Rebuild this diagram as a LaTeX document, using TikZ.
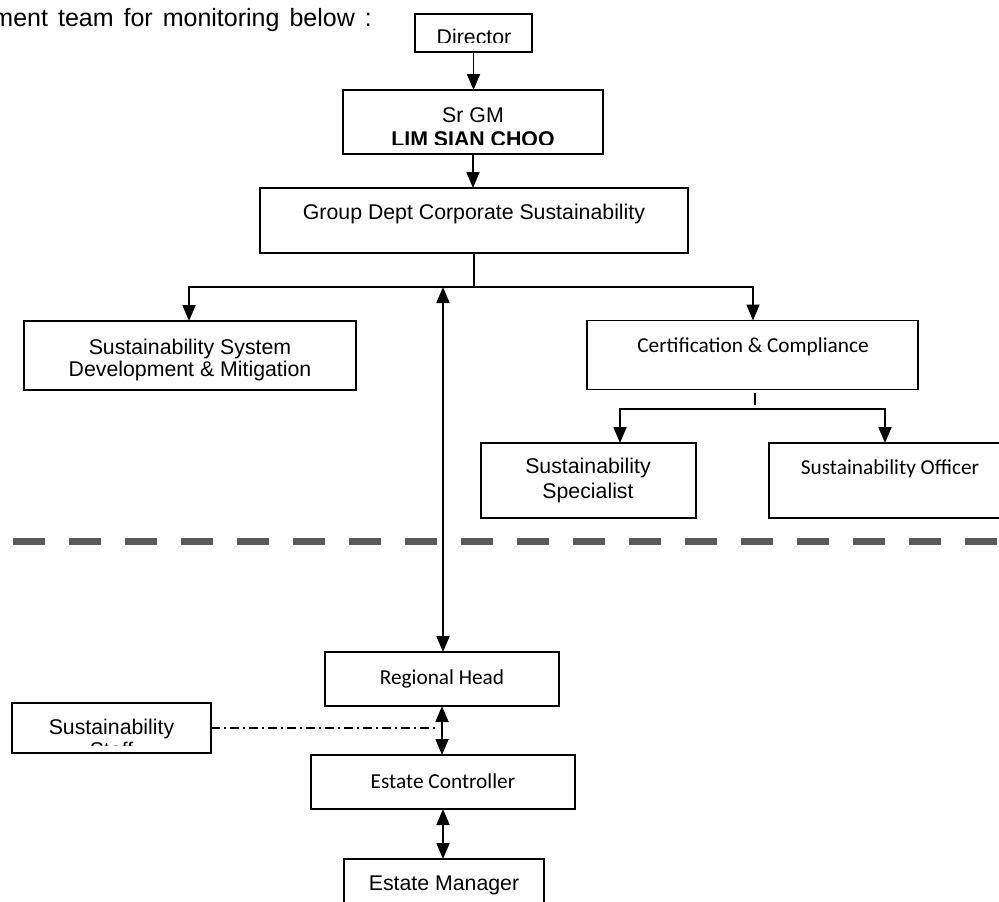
\documentclass[tikz,border=0pt]{standalone}
\usepackage{fontspec}
\setmainfont{Liberation Sans}
\newfontfamily\calibri{Carlito}
\usetikzlibrary{arrows.meta}
\definecolor{sepgray}{RGB}{89,89,89}
\begin{document}
\begin{tikzpicture}[x=1pt,y=-1pt,
  box/.style={draw, line width=1.8pt, inner sep=0pt, outer sep=0pt},
  conn/.style={line width=1.8pt},
  arr/.style={conn, -{Triangle[length=16pt,width=13pt]}},
  darr/.style={conn, {Triangle[length=16pt,width=13pt]}-{Triangle[length=16pt,width=13pt]}},
  arial/.style={font=\fontsize{21.3}{23}\selectfont, inner sep=0pt, anchor=base},
  arialb/.style={font=\bfseries\fontsize{21.3}{23}\selectfont, inner sep=0pt, anchor=base},
  cal/.style={font=\calibri\fontsize{21.3}{23}\selectfont, inner sep=0pt, anchor=base},
  dashdot/.style={line width=1.2pt, dash pattern=on 9pt off 4pt on 2pt off 4pt},
  sepline/.style={line width=7pt, color=sepgray, dash pattern=on 32pt off 24pt}
]
\useasboundingbox (0,0) rectangle (999,902);
\clip (0,0) rectangle (999,902);
\fill[white] (0,0) rectangle (999,902);

% intro text
\node[font=\fontsize{25}{28}\selectfont, inner sep=0pt, anchor=base east] (intro) at (372,27) {\spaceskip=10pt ment team for monitoring below :};

% boxes
\node[box, minimum width=117pt, minimum height=38pt] (dir) at (473.5,33) {};
\node[box, minimum width=260pt, minimum height=64pt] (srgm) at (473,122) {};
\node[box, minimum width=428pt, minimum height=65pt] (grp) at (474,220.5) {};
\node[box, minimum width=332pt, minimum height=69pt] (ssdm) at (190,355.5) {};
\node[box, minimum width=331pt, minimum height=69pt] (cc) at (752.5,355) {};
\node[box, minimum width=215pt, minimum height=75pt] (ss) at (588.5,480.5) {};
\node[box, minimum width=240pt, minimum height=75pt] (so) at (889,480.5) {};
\node[box, minimum width=234pt, minimum height=54pt] (rh) at (442,679) {};
\node[box, minimum width=199pt, minimum height=50pt] (staff) at (111.5,728) {};
\node[box, minimum width=264pt, minimum height=54pt] (ec) at (443,782) {};
\node[box, minimum width=200pt, minimum height=60pt] (em) at (444,889) {};

% texts
\begin{scope}
  \clip (400,0) rectangle (550,42);
  \node[arial] (dirt) at (474,44.6) {Director};
\end{scope}
\node[arial] (srgmt1) at (473,122.7) {Sr GM};
\begin{scope}
  \clip (343,125) rectangle (603,144);
  \node[arialb] (srgmt2) at (473,146.3) {LIM SIAN CHOO};
\end{scope}
\node[arial] (grpt) at (474,219) {Group Dept Corporate Sustainability};
\node[arial] (ssdmt1) at (190,354) {Sustainability System};
\node[arial] (ssdmt2) at (190,376) {Development \& Mitigation};
\node[cal] (cct) at (753,352) {Certification \& Compliance};
\node[arial] (sst1) at (588,473.5) {Sustainability};
\node[arial] (sst2) at (588,498.5) {Specialist};
\node[cal] (sot) at (890,474.5) {Sustainability Officer};
\node[cal] (rht) at (442,684.3) {Regional Head};
\begin{scope}
  \clip (12,700) rectangle (211,745);
  \node[arial] (stafft1) at (111.5,734) {Sustainability};
  \node[arial] (stafft2) at (111.5,757) {Staff};
\end{scope}
\node[cal] (ect) at (443,788.3) {Estate Controller};
\node[arial] (emt) at (444,890) {Estate Manager};

% connectors
\draw[arr] (dir.south) -- (dir.south |- srgm.north);
\draw[arr] (srgm.south) -- (srgm.south |- grp.north);
\coordinate (hlL) at (189,287);
\coordinate (hlR) at (753,287);
\coordinate (hv) at (443,287);
\draw[conn] (grp.south) -- (grp.south |- hlL);
\draw[arr] (hlR) -- (hlL) -- (hlL |- ssdm.north);
\draw[arr] (hlL) -- (hlR) -- (hlR |- cc.north);
\draw[darr] (hv) -- (hv |- rh.north);

\coordinate (cct1) at (755,393);
\coordinate (cct2) at (755,405);
\coordinate (ccL) at (620,409);
\coordinate (ccR) at (885,409);
\draw[conn] (cct1) -- (cct2);
\draw[arr] (ccR) -- (ccL) -- (ccL |- ss.north);
\draw[arr] (ccL) -- (ccR) -- (ccR |- so.north);

\draw[darr] (rh.south) -- (rh.south |- ec.north);
\draw[darr] (ec.south) -- (ec.south |- em.north);

\coordinate (sd) at (438,728);
\draw[dashdot] (staff.east) -- (sd);

% separator
\draw[sepline] (13,541) -- (1010,541);
\end{tikzpicture}
\end{document}
